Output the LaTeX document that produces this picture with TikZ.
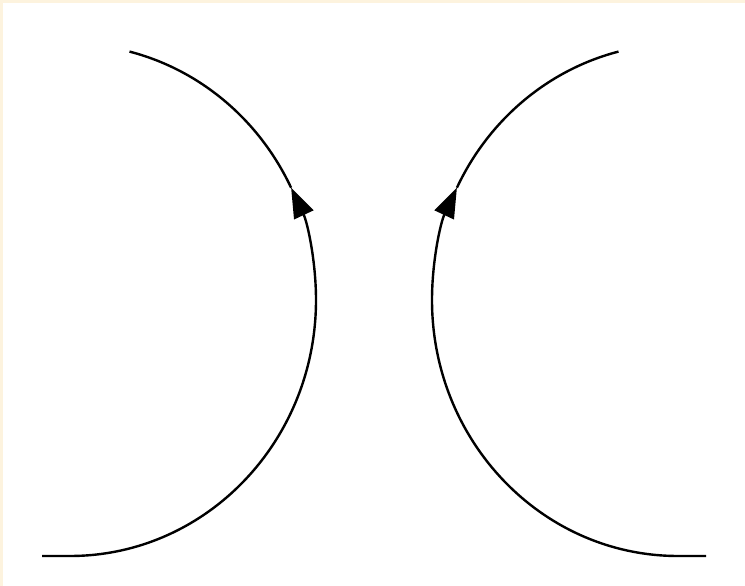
\documentclass[tikz,border=0pt]{standalone}
\usetikzlibrary{arrows.meta}
\definecolor{paper}{RGB}{253,243,222}
\tikzset{
  field/.style={line width=2.4pt, black},
  fieldtip/.style={-{Triangle[length=30pt,width=21pt]}}
}
\begin{document}
\begin{tikzpicture}[x=1pt, y=1pt]
        \useasboundingbox (0,0) rectangle (745,586);
        % faint page edge
        \fill[paper] (0,583) rectangle (745,586);
        \fill[paper] (0,0) rectangle (3,586);

        % left field line (arrow pointing up)
        \coordinate (lc) at (70,286);
        \draw[field, fieldtip] (42,30) -- (70,30)
            arc[start angle=-90, end angle=26, x radius=246, y radius=256] coordinate (la);
        \draw[field] (la) arc[start angle=26, end angle=76, x radius=246, y radius=256];

        % right field line (mirror image)
        \coordinate (rc) at (678,286);
        \draw[field, fieldtip] (706,30) -- (678,30)
            arc[start angle=270, end angle=154, x radius=246, y radius=256] coordinate (ra);
        \draw[field] (ra) arc[start angle=154, end angle=104, x radius=246, y radius=256];
    \end{tikzpicture}
\end{document}
